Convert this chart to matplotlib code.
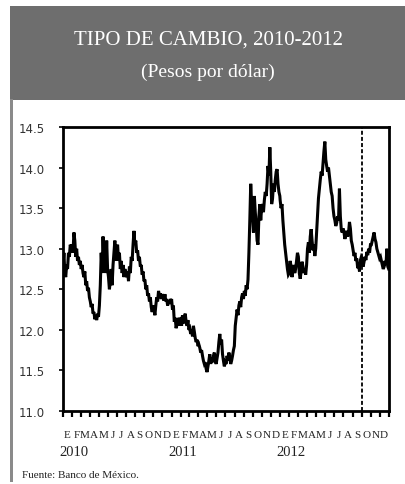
import matplotlib
matplotlib.use("Agg")
import matplotlib.pyplot as plt
import pandas as pd

# ---- data (pesos per dollar), ~10 readings per month ----
rate_2010 = [
    12.80, 12.95, 12.70, 12.65, 12.80, 12.75, 12.95, 12.90, 13.05, 13.00,   # Jan
    13.05, 12.95, 13.20, 13.10, 12.90, 13.00, 12.85, 12.90, 12.80, 12.85,   # Feb
    12.75, 12.80, 12.70, 12.65, 12.72, 12.55, 12.60, 12.48, 12.52, 12.40,   # Mar
    12.35, 12.28, 12.32, 12.20, 12.22, 12.13, 12.18, 12.12, 12.20, 12.16,   # Apr
    12.30, 12.55, 12.95, 12.70, 13.15, 12.85, 13.05, 12.70, 13.10, 12.75,   # May
    12.65, 12.50, 12.60, 12.75, 12.55, 12.80, 12.95, 13.10, 12.85, 13.00,   # Jun
    13.05, 12.85, 12.95, 12.75, 12.85, 12.70, 12.80, 12.65, 12.75, 12.70,   # Jul
    12.65, 12.72, 12.60, 12.78, 12.70, 12.90, 12.85, 13.05, 13.22, 13.05,   # Aug
    13.10, 12.95, 12.98, 12.85, 12.90, 12.78, 12.80, 12.68, 12.72, 12.60,   # Sep
    12.62, 12.50, 12.55, 12.42, 12.45, 12.35, 12.40, 12.28, 12.22, 12.30,   # Oct
    12.25, 12.18, 12.30, 12.40, 12.35, 12.48, 12.42, 12.45, 12.38, 12.44,   # Nov
    12.40, 12.36, 12.44, 12.35, 12.38, 12.30, 12.36, 12.32, 12.38, 12.35,   # Dec
]
rate_2011 = [
    12.38, 12.25, 12.30, 12.10, 12.15, 12.02, 12.08, 12.05, 12.15, 12.10,   # Jan
    12.12, 12.05, 12.18, 12.08, 12.15, 12.20, 12.10, 12.05, 12.12, 12.00,   # Feb
    12.02, 11.95, 12.00, 11.92, 12.05, 11.98, 11.90, 11.85, 11.88, 11.80,   # Mar
    11.82, 11.78, 11.72, 11.75, 11.68, 11.62, 11.58, 11.60, 11.52, 11.48,   # Apr
    11.55, 11.62, 11.70, 11.58, 11.65, 11.60, 11.68, 11.72, 11.62, 11.58,   # May
    11.65, 11.72, 11.85, 11.95, 11.82, 11.88, 11.70, 11.62, 11.55, 11.60,   # Jun
    11.58, 11.68, 11.62, 11.72, 11.65, 11.58, 11.62, 11.68, 11.75, 11.80,   # Jul
    12.05, 12.15, 12.25, 12.18, 12.30, 12.35, 12.28, 12.40, 12.45, 12.38,   # Aug
    12.48, 12.42, 12.55, 12.50, 12.62, 12.95, 13.35, 13.80, 13.55, 13.40,   # Sep
    13.20, 13.65, 13.45, 13.30, 13.10, 13.05, 13.40, 13.55, 13.35, 13.50,   # Oct
    13.55, 13.45, 13.60, 13.70, 13.65, 13.80, 14.02, 13.90, 14.25, 13.95,   # Nov
    13.55, 13.62, 13.80, 13.70, 13.85, 13.95, 13.98, 13.80, 13.70, 13.65,   # Dec
]
rate_2012 = [
    13.60, 13.50, 13.55, 13.35, 13.20, 13.05, 12.95, 12.85, 12.75, 12.68,   # Jan
    12.70, 12.85, 12.78, 12.65, 12.72, 12.80, 12.70, 12.75, 12.85, 12.95,   # Feb
    12.90, 12.70, 12.63, 12.72, 12.84, 12.78, 12.70, 12.75, 12.68, 12.80,   # Mar
    13.00, 13.08, 12.95, 13.15, 13.24, 13.10, 12.98, 13.05, 12.91, 13.00,   # Apr
    13.20, 13.40, 13.62, 13.74, 13.85, 13.95, 13.90, 14.05, 14.20, 14.32,   # May
    14.10, 14.02, 13.95, 14.00, 13.90, 13.80, 13.70, 13.65, 13.50, 13.40,   # Jun
    13.35, 13.28, 13.32, 13.40, 13.35, 13.74, 13.40, 13.24, 13.20, 13.25,   # Jul
    13.20, 13.12, 13.18, 13.22, 13.15, 13.20, 13.33, 13.25, 13.10, 13.05,   # Aug
    12.98, 12.91, 12.95, 12.85, 12.88, 12.76, 12.80, 12.72, 12.86, 12.90,   # Sep
    12.88, 12.78, 12.84, 12.90, 12.86, 12.96, 12.92, 13.00, 12.95, 13.05,   # Oct
    13.05, 13.10, 13.15, 13.20, 13.12, 13.08, 13.00, 12.96, 12.92, 12.88,   # Nov
    12.90, 12.85, 12.80, 12.75, 12.78, 12.85, 12.80, 13.00, 12.78, 12.75,   # Dec
]
years = [2010, 2011, 2012]
month_letters = ["E", "F", "M", "A", "M", "J", "J", "A", "S", "O", "N", "D"]
yticks = [11.0, 11.5, 12.0, 12.5, 13.0, 13.5, 14.0, 14.5]
marker_date = "2012-10-01"
title = "TIPO DE CAMBIO, 2010-2012"
subtitle = "(Pesos por dólar)"
source = "Fuente: Banco de México."

# ---- assemble series ----
dates, values = [], []
for y, vals in zip(years, [rate_2010, rate_2011, rate_2012]):
    d = pd.date_range(f"{y}-01-01", f"{y}-12-31", periods=len(vals))
    dates.extend(d)
    values.extend(vals)

W, H = 406, 485
fig = plt.figure(figsize=(W / 100, H / 100), dpi=100)
fig.patch.set_facecolor("white")

# header band and left border
fig.add_artist(plt.Rectangle((10 / W, 1 - 101 / H), 396 / W, 94 / H,
                             transform=fig.transFigure, color="#6e6e6e", lw=0))
fig.add_artist(plt.Rectangle((10 / W, 1 - 483 / H), 3 / W, 383 / H,
                             transform=fig.transFigure, color="#8a8a8a", lw=0))

serif = ["Liberation Serif", "DejaVu Serif"]
fig.text(208 / W, 1 - 40 / H, title, color="white", ha="center", va="center",
         fontsize=15, family=serif)
fig.text(208 / W, 1 - 72 / H, subtitle, color="white", ha="center", va="center",
         fontsize=14, family=serif)

ax = fig.add_axes([63 / W, 1 - 412 / H, (389 - 63) / W, (412 - 128) / H])
ax.plot(dates, values, color="black", lw=2.2, solid_joinstyle="miter")
ax.axvline(pd.Timestamp(marker_date), color="black", lw=1.3, ls=(0, (2.2, 1.2)))

ax.set_xlim(pd.Timestamp("2010-01-01"), pd.Timestamp("2013-01-01"))
ax.set_ylim(11.0, 14.5)
ax.set_yticks(yticks)
ax.set_yticklabels([f"{v:.1f}" for v in yticks], fontsize=8.5, color="#333333",
                   family=["DejaVu Sans"])
ax.tick_params(axis="y", length=3, width=1.2, pad=10, color="black")

# monthly ticks with letters
month_starts = pd.date_range("2010-01-01", "2013-01-01", freq="MS")
ax.set_xticks(month_starts)
ax.set_xticklabels([])
ax.tick_params(axis="x", length=4, width=1.6, direction="out", color="black")
mids = [s + pd.Timedelta(days=15) for s in month_starts[:-1]]
for i, m in enumerate(mids):
    ax.text(m, 11.0 - 23 / 81.14, month_letters[i % 12], ha="center", va="center",
            fontsize=8, family=serif, color="#222222")
for y in years:
    ax.text(pd.Timestamp(f"{y}-02-06"), 11.0 - 40 / 81.14, str(y), ha="center",
            va="center", fontsize=10.5, family=serif, color="#222222")

for s in ax.spines.values():
    s.set_linewidth(2.0)
    s.set_color("black")

fig.text(22 / W, 1 - 476 / H, source, fontsize=8, family=serif, color="#222222",
         ha="left", va="center")

fig.savefig("out.png", dpi=100)
